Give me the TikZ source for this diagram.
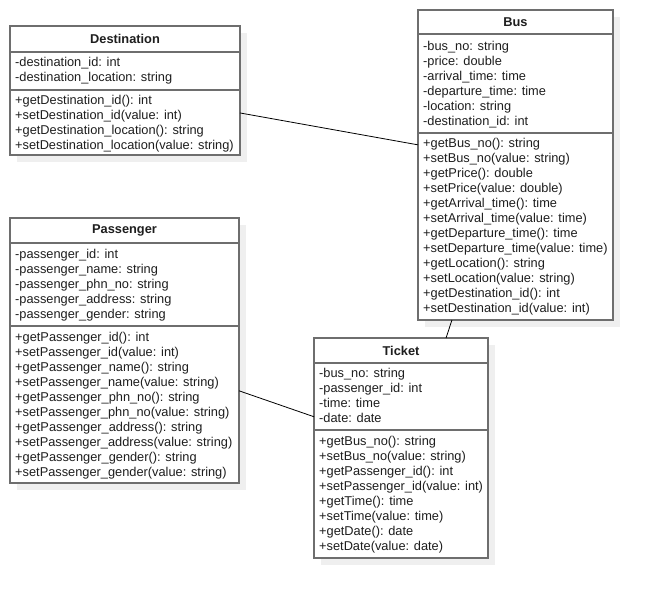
\documentclass[tikz,border=0pt]{standalone}
\usepackage{fontspec}
\setmainfont{Liberation Sans}
\usetikzlibrary{calc}

\definecolor{boxline}{HTML}{6E6E6E}
\definecolor{shadowgrey}{HTML}{EFEFEF}
\definecolor{membertext}{HTML}{1E1E1E}

\tikzset{
  classbox/.style={draw=boxline, line width=1.4pt, fill=white, anchor=north west,
                   inner sep=0pt, outer sep=0pt},
  classshadow/.style={fill=shadowgrey, draw=none},
  divider/.style={draw=boxline, line width=1.4pt},
  classtitle/.style={font=\fontsize{12.8}{14}\selectfont\bfseries, text=membertext, inner sep=0pt},
  member/.style={font=\fontsize{12.8}{14}\selectfont, text=membertext, anchor=base west, inner sep=0pt},
  assoc/.style={draw=black, line width=0.8pt},
}

% one text row per list item, 15 units apart
\newcommand\classmembers[4]{%
  \foreach \txt [count=\k from 0] in {#4}
    \node[member] (#1-\k) at (#2, #3+15*\k) {\txt};}

\begin{document}
\begin{tikzpicture}[x=1pt, y=-1pt]
\useasboundingbox (0,0) rectangle (653,598);
\fill[white] (0,0) rectangle (653,598);

% ---------- Destination ----------
\fill[classshadow] (17,33) rectangle (247,162);
\node[classbox, minimum width=230pt, minimum height=129pt] (dest) at (10,26) {};
\node[classtitle] (dest-title) at (125,39) {Destination};
\draw[divider] (dest.west |- 0,52) -- (dest.east |- 0,52);
\classmembers{dest-attr}{15}{66}{-destination\_id: int, -destination\_location: string}
\draw[divider] (dest.west |- 0,90) -- (dest.east |- 0,90);
\classmembers{dest-op}{15}{104}{+getDestination\_id(): int, +setDestination\_id(value: int),
  +getDestination\_location(): string, +setDestination\_location(value: string)}

% ---------- Bus ----------
\fill[classshadow] (425,17) rectangle (620,327);
\node[classbox, minimum width=195pt, minimum height=310pt] (bus) at (418,10) {};
\node[classtitle] (bus-title) at (515.5,22) {Bus};
\draw[divider] (bus.west |- 0,34) -- (bus.east |- 0,34);
\classmembers{bus-attr}{423}{50}{-bus\_no: string, -price: double, -arrival\_time: time,
  -departure\_time: time, -location: string, -destination\_id: int}
\draw[divider] (bus.west |- 0,133) -- (bus.east |- 0,133);
\classmembers{bus-op}{423}{147}{+getBus\_no(): string, +setBus\_no(value: string),
  +getPrice(): double, +setPrice(value: double), +getArrival\_time(): time,
  +setArrival\_time(value: time), +getDeparture\_time(): time,
  +setDeparture\_time(value: time), +getLocation(): string,
  +setLocation(value: string), +getDestination\_id(): int,
  +setDestination\_id(value: int)}

% ---------- Passenger ----------
\fill[classshadow] (17,225) rectangle (246,490);
\node[classbox, minimum width=229pt, minimum height=265pt] (pass) at (10,218) {};
\node[classtitle] (pass-title) at (124.5,230.5) {Passenger};
\draw[divider] (pass.west |- 0,243) -- (pass.east |- 0,243);
\classmembers{pass-attr}{15}{258}{-passenger\_id: int, -passenger\_name: string,
  -passenger\_phn\_no: string, -passenger\_address: string, -passenger\_gender: string}
\draw[divider] (pass.west |- 0,326) -- (pass.east |- 0,326);
\classmembers{pass-op}{15}{341}{+getPassenger\_id(): int, +setPassenger\_id(value: int),
  +getPassenger\_name(): string, +setPassenger\_name(value: string),
  +getPassenger\_phn\_no(): string, +setPassenger\_phn\_no(value: string),
  +getPassenger\_address(): string, +setPassenger\_address(value: string),
  +getPassenger\_gender(): string, +setPassenger\_gender(value: string)}

% ---------- Ticket ----------
\fill[classshadow] (321,345) rectangle (495,565);
\node[classbox, minimum width=174pt, minimum height=220pt] (ticket) at (314,338) {};
\node[classtitle] (ticket-title) at (401,350.5) {Ticket};
\draw[divider] (ticket.west |- 0,363) -- (ticket.east |- 0,363);
\classmembers{ticket-attr}{319}{377}{-bus\_no: string, -passenger\_id: int, -time: time,
  -date: date}
\draw[divider] (ticket.west |- 0,430) -- (ticket.east |- 0,430);
\classmembers{ticket-op}{319}{445}{+getBus\_no(): string, +setBus\_no(value: string),
  +getPassenger\_id(): int, +setPassenger\_id(value: int), +getTime(): time,
  +setTime(value: time), +getDate(): date, +setDate(value: date)}

% ---------- associations ----------
\draw[assoc] ($(dest.north east)!0.674!(dest.south east)$)
          -- ($(bus.north west)!0.435!(bus.south west)$);
\draw[assoc] ($(bus.south west)!0.174!(bus.south east)$)
          -- ($(ticket.north west)!0.759!(ticket.north east)$);
\draw[assoc] ($(pass.north east)!0.652!(pass.south east)$)
          -- ($(ticket.north west)!0.358!(ticket.south west)$);
\end{tikzpicture}
\end{document}
